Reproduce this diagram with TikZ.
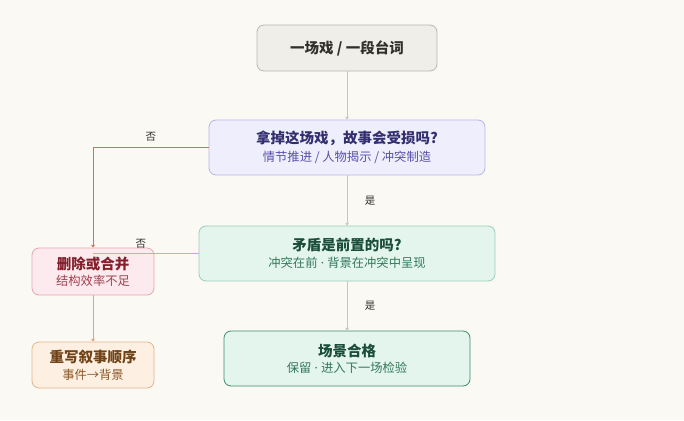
\documentclass[tikz,border=0pt]{standalone}
\usepackage{fontspec}
\setmainfont{Noto Sans CJK SC}
\newfontfamily\latinFont{Noto Sans}
\usetikzlibrary{positioning,arrows.meta}
\definecolor{paperColor}{RGB}{251,249,244}
\definecolor{startFill}{RGB}{240,238,233}
\definecolor{startLine}{RGB}{186,183,174}
\definecolor{startText}{RGB}{50,48,44}
\definecolor{askFill}{RGB}{239,238,253}
\definecolor{askLine}{RGB}{184,180,230}
\definecolor{askText}{RGB}{52,46,110}
\definecolor{askSub}{RGB}{88,80,170}
\definecolor{checkFill}{RGB}{228,245,238}
\definecolor{checkLine}{RGB}{150,208,184}
\definecolor{passLine}{RGB}{62,140,108}
\definecolor{checkText}{RGB}{26,78,58}
\definecolor{checkSub}{RGB}{50,120,92}
\definecolor{cutFill}{RGB}{253,234,238}
\definecolor{cutLine}{RGB}{230,166,176}
\definecolor{cutText}{RGB}{130,32,44}
\definecolor{cutSub}{RGB}{160,64,78}
\definecolor{orderFill}{RGB}{253,240,226}
\definecolor{orderLine}{RGB}{226,182,138}
\definecolor{orderText}{RGB}{112,66,22}
\definecolor{orderSub}{RGB}{140,88,40}
\definecolor{flowGrey}{RGB}{200,198,192}
\definecolor{noRed}{RGB}{222,110,70}
\definecolor{noAmber}{RGB}{228,176,104}
\definecolor{noTan}{RGB}{218,168,120}
\tikzstyle{chart} = [x = 1pt, y = -1pt]
\tikzstyle{stepBox} = [rounded corners = 7pt, line width = 0.8pt, inner sep = 0pt, align = center]
\tikzstyle{flowLine} = [line width = 1pt, -{Stealth[length=3pt,width=4pt]}]
\tikzstyle{edgeText} = [font=\fontsize{10.5}{12}\selectfont, text=startText]
\newcommand{\titleFont}{\fontsize{14.5}{17}\selectfont\bfseries}
\newcommand{\subFont}{\fontsize{12.3}{14}\selectfont}
\newcommand{\dotSep}{{\latinFont\ ·\ }}
\newcommand{\stepText}[4]{{\titleFont\color{#1}#3}\\[4.5pt]{\subFont\color{#2}#4}}

\begin{document}
\begin{tikzpicture}[chart]
  \fill [paperColor] (0,0) rectangle (684,420);

  \node [stepBox, draw=startLine, fill=startFill, minimum width=180pt, minimum height=46pt,
         font=\titleFont, text=startText] (scene) at (347,48) {一场戏 / 一段台词};

  \node [stepBox, draw=askLine, fill=askFill, minimum width=276pt, minimum height=55pt] (ask) at (347,147.5)
    {\stepText{askText}{askSub}{拿掉这场戏，故事会受损吗?}{情节推进 / 人物揭示 / 冲突制造}};

  \node [stepBox, draw=checkLine, fill=checkFill, minimum width=296pt, minimum height=55pt] (conflict) at (347,253.5)
    {\stepText{checkText}{checkSub}{矛盾是前置的吗?}{冲突在前\dotSep 背景在冲突中呈现}};

  \node [stepBox, draw=passLine, fill=checkFill, minimum width=246pt, minimum height=55pt] (pass) at (347,358.5)
    {\stepText{checkText}{checkSub}{场景合格}{保留\dotSep 进入下一场检验}};

  \node [stepBox, draw=cutLine, fill=cutFill, minimum width=122pt, minimum height=47pt] (cut) at (93,271.5)
    {\stepText{cutText}{cutSub}{删除或合并}{结构效率不足}};

  \node [stepBox, draw=orderLine, fill=orderFill, minimum width=122pt, minimum height=46pt] (order) at (93,365)
    {\stepText{orderText}{orderSub}{重写叙事顺序}{事件→背景}};

  % yes branch
  \draw [flowLine, color=flowGrey] (scene) -- (ask);
  \draw [flowLine, color=flowGrey] (ask) -- node [edgeText, right=14pt] {是} (conflict);
  \draw [flowLine, color=flowGrey] (conflict) -- node [edgeText, right=14pt] {是} (pass);

  % no branch
  \draw [flowLine, color=noRed] (ask.west) -| node [edgeText, pos=0.25, above=2pt] {否} (cut.north);
  \coordinate (mergePoint) at (cut.center |- conflict.west);
  \draw [flowLine, color=noAmber, -] (conflict.west) -- node [edgeText, pos=0.5, above=1pt, xshift=-5pt] {否} (mergePoint);
  \draw [flowLine, color=noTan] (cut) -- (order);
\end{tikzpicture}
\end{document}
